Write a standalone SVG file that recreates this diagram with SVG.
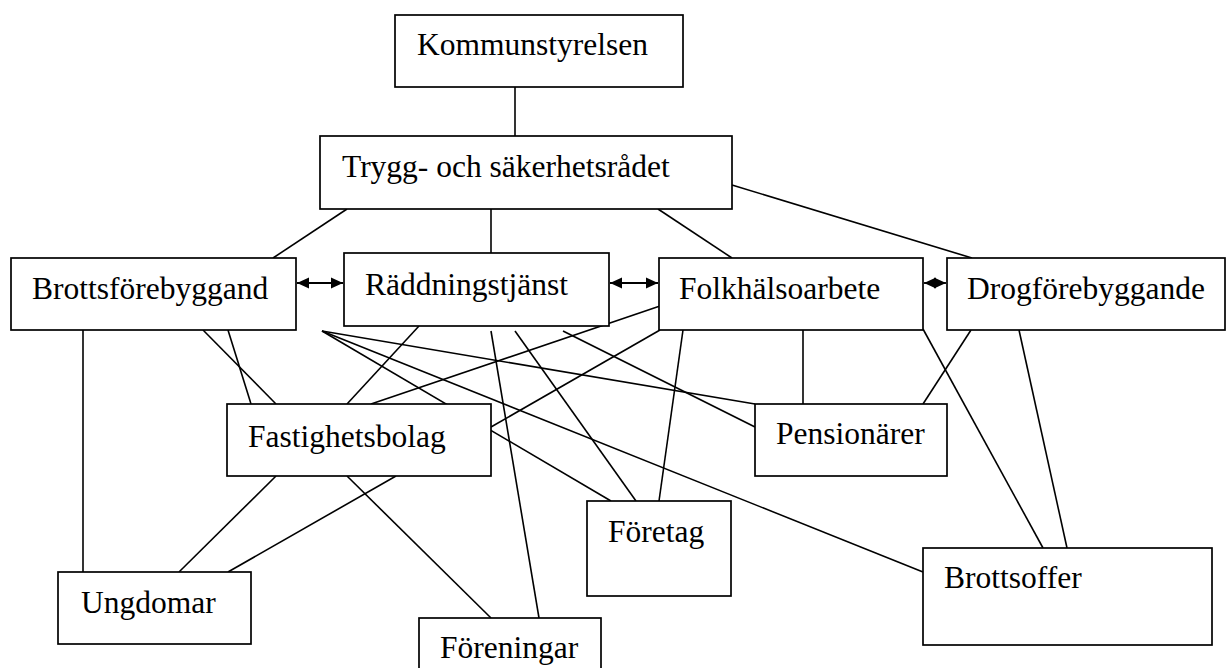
<svg xmlns="http://www.w3.org/2000/svg" width="1226" height="668" viewBox="0 0 1226 668">
<style>
.box{fill:#fff;stroke:#000;stroke-width:1.7}
.lbl{font-family:"Liberation Serif","Times New Roman",serif;font-size:31.5px;fill:#000}
.ln{stroke:#000;stroke-width:1.6;fill:none}
.ar{stroke:#000;stroke-width:1.8;fill:none;marker-start:url(#ah);marker-end:url(#ah)}
</style>
<defs>
<marker id="ah" markerUnits="userSpaceOnUse" markerWidth="13" markerHeight="13" viewBox="0 0 13 13" refX="12" refY="6.5" orient="auto-start-reverse">
<path d="M0,1 L12,6.5 L0,12 z" fill="#000"/>
</marker>
</defs>
<rect width="1226" height="668" fill="#fff"/>
<g id="connectors">
<line class="ln" x1="515" y1="87" x2="515" y2="136"/>
<line class="ln" x1="347" y1="209" x2="273" y2="258"/>
<line class="ln" x1="491" y1="209" x2="491" y2="253"/>
<line class="ln" x1="658" y1="209" x2="732" y2="258"/>
<line class="ln" x1="732" y1="185" x2="972" y2="258"/>
<line class="ar" x1="297" y1="283" x2="343" y2="283"/>
<line class="ar" x1="610" y1="283" x2="658" y2="283"/>
<line class="ar" x1="924" y1="283" x2="946" y2="283"/>
<line class="ln" x1="83" y1="330" x2="83" y2="572"/>
<line class="ln" x1="203" y1="330" x2="276" y2="404"/>
<line class="ln" x1="228" y1="330" x2="251" y2="404"/>
<line class="ln" x1="322" y1="331" x2="611" y2="501"/>
<line class="ln" x1="322" y1="331" x2="755" y2="404"/>
<line class="ln" x1="322" y1="331" x2="923" y2="572"/>
<line class="ln" x1="419" y1="326" x2="347" y2="404"/>
<line class="ln" x1="491" y1="331" x2="539" y2="618"/>
<line class="ln" x1="515" y1="331" x2="636" y2="501"/>
<line class="ln" x1="563" y1="331" x2="755" y2="427"/>
<line class="ln" x1="660" y1="306" x2="371" y2="404"/>
<line class="ln" x1="660" y1="330" x2="491" y2="427"/>
<line class="ln" x1="683" y1="330" x2="659" y2="501"/>
<line class="ln" x1="803" y1="330" x2="803" y2="404"/>
<line class="ln" x1="923" y1="329" x2="1043" y2="548"/>
<line class="ln" x1="971" y1="330" x2="923" y2="404"/>
<line class="ln" x1="1019" y1="330" x2="1067" y2="548"/>
<line class="ln" x1="276" y1="476" x2="179" y2="572"/>
<line class="ln" x1="396" y1="476" x2="228" y2="572"/>
<line class="ln" x1="347" y1="476" x2="491" y2="618"/>
</g>
<g id="kommunstyrelsen"><rect class="box" x="395" y="15" width="288" height="72"/><text class="lbl" x="417" y="55">Kommunstyrelsen</text></g>
<g id="trygg"><rect class="box" x="320" y="136" width="412" height="73"/><text class="lbl" x="342" y="177">Trygg- och säkerhetsrådet</text></g>
<g id="brottsforebyggand"><rect class="box" x="11" y="258" width="285" height="72"/><text class="lbl" x="32" y="299">Brottsförebyggand</text></g>
<g id="raddningstjanst"><rect class="box" x="344" y="253" width="265" height="73"/><text class="lbl" x="365" y="295">Räddningstjänst</text></g>
<g id="folkhalsoarbete"><rect class="box" x="659" y="258" width="264" height="72"/><text class="lbl" x="679" y="299">Folkhälsoarbete</text></g>
<g id="drogforebyggande"><rect class="box" x="947" y="258" width="278" height="72"/><text class="lbl" x="967" y="299">Drogförebyggande</text></g>
<g id="fastighetsbolag"><rect class="box" x="227" y="404" width="264" height="72"/><text class="lbl" x="248" y="447">Fastighetsbolag</text></g>
<g id="pensionarer"><rect class="box" x="755" y="404" width="192" height="72"/><text class="lbl" x="776" y="444">Pensionärer</text></g>
<g id="foretag"><rect class="box" x="587" y="501" width="144" height="95"/><text class="lbl" x="608" y="542">Företag</text></g>
<g id="brottsoffer"><rect class="box" x="923" y="548" width="289" height="97"/><text class="lbl" x="944" y="588">Brottsoffer</text></g>
<g id="ungdomar"><rect class="box" x="58" y="572" width="193" height="72"/><text class="lbl" x="81" y="613">Ungdomar</text></g>
<g id="foreningar"><rect class="box" x="419" y="618" width="182" height="60"/><text class="lbl" x="440" y="658">Föreningar</text></g>
</svg>
